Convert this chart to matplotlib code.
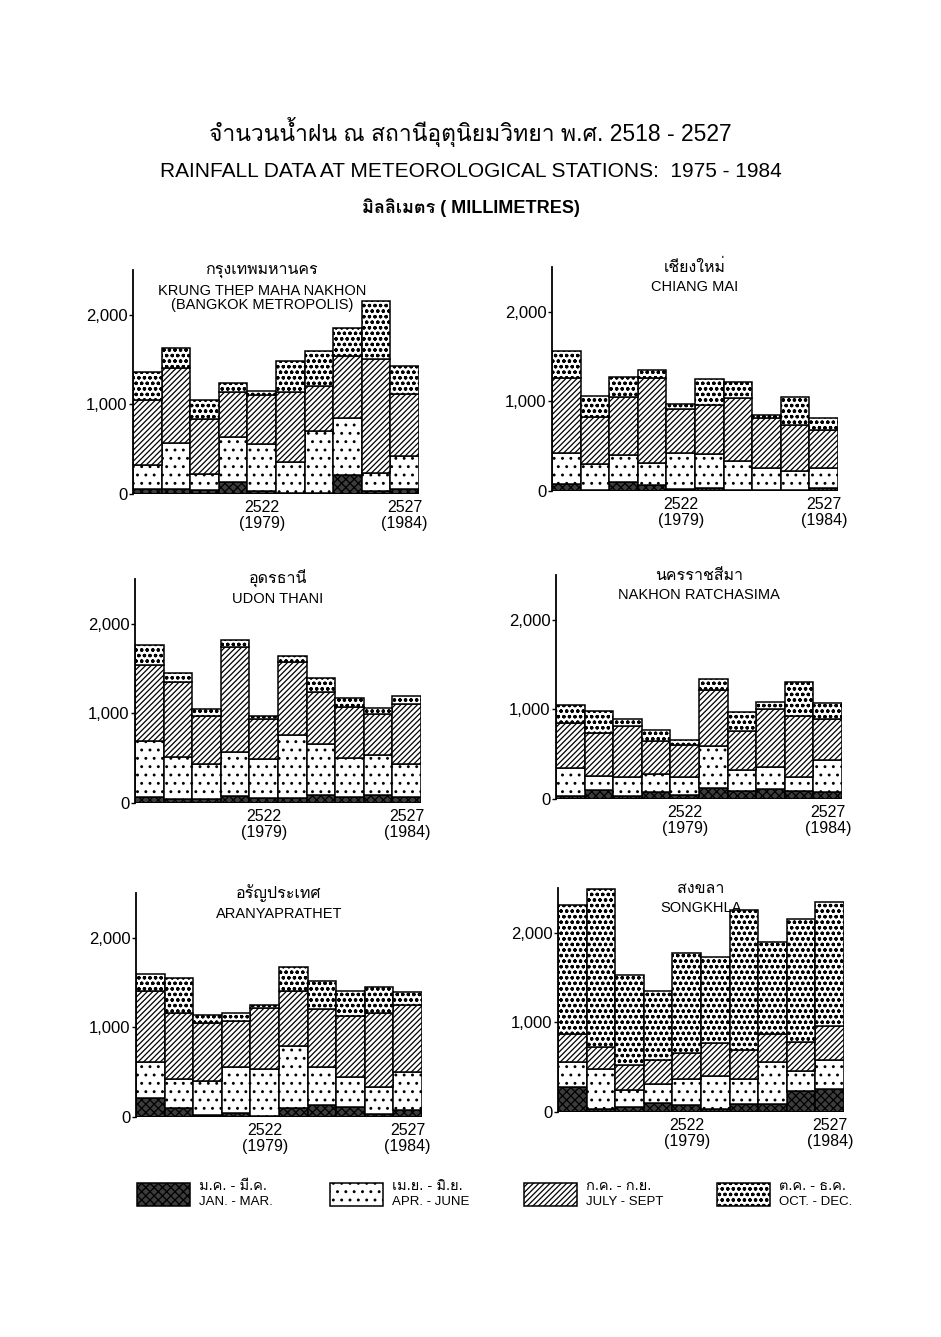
import matplotlib
matplotlib.use("Agg")
import matplotlib.pyplot as plt
from matplotlib import font_manager
from matplotlib.ft2font import FT2Font
from matplotlib.patches import Rectangle

# Buddhist-era years 2518-2527 (1975-1984)
years = list(range(2518, 2528))

# quarterly rainfall in mm
bkk_jm = [60, 52, 41, 134, 30, 15, 11, 208, 30, 52]
bkk_aj = [267, 520, 178, 502, 531, 342, 688, 643, 208, 376]
bkk_js = [718, 837, 614, 502, 539, 781, 502, 688, 1271, 691]
bkk_od = [315, 223, 212, 104, 52, 342, 401, 312, 643, 305]

cm_jm = [82, 15, 101, 64, 22, 37, 15, 7, 15, 37]
cm_aj = [344, 284, 299, 250, 404, 374, 321, 251, 206, 221]
cm_js = [834, 531, 654, 946, 486, 550, 700, 553, 515, 422]
cm_od = [306, 232, 213, 86, 60, 288, 179, 38, 318, 139]

ud_jm = [64, 49, 49, 75, 56, 56, 94, 64, 86, 64]
ud_aj = [629, 464, 382, 494, 438, 701, 569, 442, 450, 367]
ud_js = [843, 835, 543, 1173, 442, 816, 580, 569, 457, 674]
ud_od = [232, 101, 75, 74, 38, 67, 154, 94, 63, 94]

nr_jm = [37, 104, 37, 75, 49, 123, 86, 116, 86, 75]
nr_aj = [310, 150, 209, 209, 197, 467, 242, 242, 160, 365]
nr_js = [496, 485, 567, 362, 362, 626, 429, 642, 679, 456]
nr_od = [206, 242, 83, 119, 49, 120, 213, 82, 381, 179]

ar_jm = [210, 99, 26, 44, 15, 99, 136, 110, 37, 74]
ar_aj = [404, 324, 375, 515, 525, 699, 423, 339, 301, 430]
ar_js = [798, 742, 647, 515, 681, 606, 651, 680, 827, 742]
ar_od = [184, 386, 88, 84, 25, 272, 312, 283, 287, 147]

sk_jm = [277, 37, 55, 100, 74, 37, 92, 92, 232, 258]
sk_aj = [277, 443, 192, 214, 295, 362, 277, 462, 222, 321]
sk_js = [321, 251, 281, 269, 288, 376, 325, 313, 332, 380]
sk_od = [1431, 1760, 996, 764, 1114, 959, 1564, 1033, 1365, 1384]

stations = [
    ("กรุงเทพมหานคร", "KRUNG THEP MAHA NAKHON\n(BANGKOK METROPOLIS)", bkk_jm, bkk_aj, bkk_js, bkk_od),
    ("เชียงใหม่", "CHIANG MAI", cm_jm, cm_aj, cm_js, cm_od),
    ("อุดรธานี", "UDON THANI", ud_jm, ud_aj, ud_js, ud_od),
    ("นครราชสีมา", "NAKHON RATCHASIMA", nr_jm, nr_aj, nr_js, nr_od),
    ("อรัญประเทศ", "ARANYAPRATHET", ar_jm, ar_aj, ar_js, ar_od),
    ("สงขลา", "SONGKHLA", sk_jm, sk_aj, sk_js, sk_od),
]

quarter_th = ["ม.ค. - มี.ค.", "เม.ย. - มิ.ย.", "ก.ค. - ก.ย.", "ต.ค. - ธ.ค."]
quarter_en = ["JAN. - MAR.", "APR. - JUNE", "JULY - SEPT", "OCT. - DEC."]
yticks = [0, 1000, 2000]
ytick_labels = ["0", "1,000", "2,000"]


def find_thai_font():
    for f in font_manager.fontManager.ttflist:
        try:
            if 0x0E01 in FT2Font(f.fname).get_charmap():
                return f.name
        except Exception:
            pass
    return None


thai = find_thai_font()
latin = "Liberation Sans"
fams = [latin, thai, "DejaVu Sans"] if thai else [latin, "DejaVu Sans"]
plt.rcParams['font.family'] = fams
plt.rcParams['hatch.linewidth'] = 0.9

styles = [
    dict(facecolor="#3c3c3c", hatch="xxxx"),
    dict(facecolor="white", hatch=".."),
    dict(facecolor="white", hatch="//////"),
    dict(facecolor="white", hatch="ooo"),
]

fig = plt.figure(figsize=(9.41, 13.37), dpi=100)

fig.text(0.5, 0.901, "จำนวนน้ำฝน ณ สถานีอุตุนิยมวิทยา พ.ศ. 2518 - 2527", ha="center", va="center", fontsize=16.5)
fig.text(0.5, 0.872, "RAINFALL DATA AT METEOROLOGICAL STATIONS:  1975 - 1984", ha="center", va="center", fontsize=15)
fig.text(0.5, 0.845, "มิลลิเมตร ( MILLIMETRES)", ha="center", va="center", fontsize=13, fontweight="bold")

# left, bottom of each panel (figure fractions)
pos = [(0.1413, 0.6305), (0.5866, 0.6328),
       (0.1435, 0.3994), (0.5909, 0.4024),
       (0.1445, 0.1645), (0.5930, 0.1683)]
title_x = [0.45, 0.5, 0.5, 0.5, 0.5, 0.5]

for (th, en, jm, aj, js, od), (l, b), tx in zip(stations, pos, title_x):
    ax = fig.add_axes([l, b, 0.304, 0.1675])
    x = [i + 0.5 for i in range(len(years))]
    bottom = [0] * len(years)
    for vals, st in zip([jm, aj, js, od], styles):
        ax.bar(x, vals, width=1.0, bottom=bottom, edgecolor="black", linewidth=1.1, **st)
        bottom = [p + v for p, v in zip(bottom, vals)]
    ax.set_xlim(0, 10)
    ax.set_ylim(0, 2500)
    for s in ["top", "right", "bottom"]:
        ax.spines[s].set_visible(False)
    ax.spines["left"].set_linewidth(1.3)
    ax.set_yticks(yticks)
    ax.set_yticklabels(ytick_labels, fontsize=12)
    ax.tick_params(axis="y", length=3, width=1, pad=1)
    ax.set_xticks([4.5, 9.5])
    ax.set_xticklabels(["%d\n(%d)" % (years[4], years[4] - 543), "%d\n(%d)" % (years[9], years[9] - 543)],
                       fontsize=11.5, linespacing=1.1)
    ax.tick_params(axis="x", length=0, pad=4)
    ax.axhline(0, color="black", lw=2)
    ax.text(tx, 1.0, th, transform=ax.transAxes, ha="center", va="center", fontsize=11.5)
    ax.text(tx, 0.94, en, transform=ax.transAxes, ha="center", va="top", fontsize=10.5, linespacing=1.05)

# legend
lg = fig.add_axes([0, 0, 1, 1], facecolor="none")
lg.set_axis_off()
lg.set_xlim(0, 941)
lg.set_ylim(1337, 0)
for i, st in enumerate(styles):
    x0 = 137 + i * 193.5
    lg.add_patch(Rectangle((x0, 1183), 53, 23, edgecolor="black", linewidth=1.1, **st))
    lg.text(x0 + 62, 1186, quarter_th[i], ha="left", va="center", fontsize=10.5)
    lg.text(x0 + 62, 1202, quarter_en[i], ha="left", va="center", fontsize=9.5)

fig.savefig("out.png", dpi=100)
